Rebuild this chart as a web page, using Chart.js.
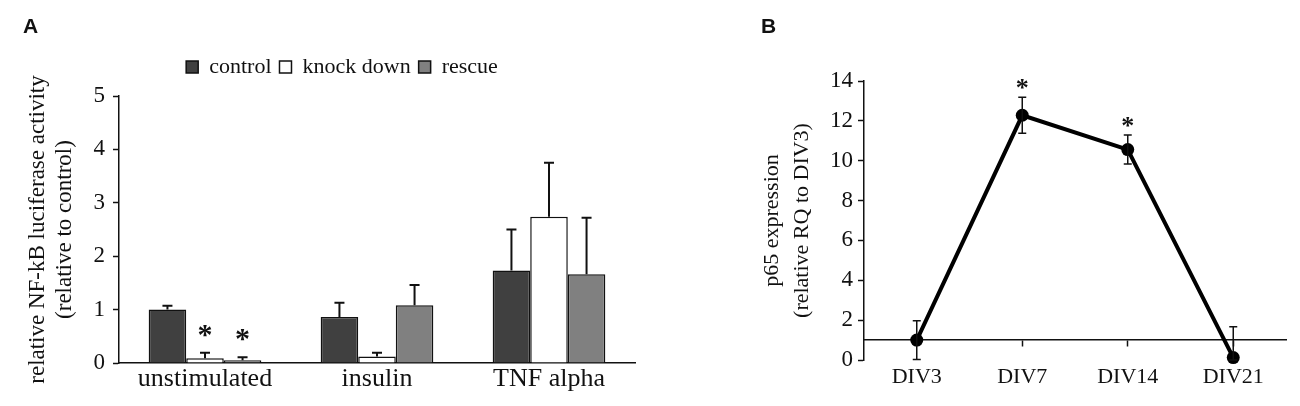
<!DOCTYPE html>
<html>
<head>
<meta charset="utf-8">
<script src="https://cdn.jsdelivr.net/npm/chart.js@4.4.1/dist/chart.umd.min.js"></script>
<style>
  html, body { margin: 0; padding: 0; background: #fff; }
  body { width: 1300px; height: 406px; position: relative; overflow: hidden; }
  .panel { position: absolute; top: 0; height: 406px; }
  #wrapA { left: 0; width: 684px; }
  #wrapB { left: 650px; width: 650px; }
  .tag { position: absolute; font: bold 21px "Liberation Sans", Arial, sans-serif; line-height: 21px; color: #111; }
</style>
</head>
<body>
<div class="panel" id="wrapA"><canvas id="chartA" width="684" height="406"></canvas></div>
<div class="panel" id="wrapB"><canvas id="chartB" width="650" height="406"></canvas></div>
<div class="tag" style="left:23px; top:15px;">A</div>
<div class="tag" style="left:761px; top:15px;">B</div>
<script>
// Panel A: NF-kB luciferase activity
const stimuli = ["unstimulated", "insulin", "TNF alpha"];
const controlVals = [1.00, 0.86, 1.73];
const controlErr = [0.07, 0.27, 0.77];
const knockDownVals = [0.09, 0.12, 2.74];
const knockDownErr = [0.10, 0.07, 1.01];
const rescueVals = [0.05, 1.08, 1.66];
const rescueErr = [0.06, 0.38, 1.06];
const knockDownSig = [true, false, false];
const rescueSig = [true, false, false];

// Panel B: p65 expression over days in vitro
const days = ["DIV3", "DIV7", "DIV14", "DIV21"];
const p65Vals = [1.00, 12.28, 10.56, 0.12];
const p65Err = [0.97, 0.90, 0.73, 1.55];
const p65Sig = [false, true, true, false];

const serif = '"Liberation Serif", "Times New Roman", serif';
Chart.defaults.font.family = serif;
Chart.defaults.color = "#111";
Chart.defaults.animation = false;

// error bars + asterisks, drawn from the dataset values through the y scale
const errorBars = {
    id: "errorBars",
    afterDatasetsDraw(chart, args, opts) {
        const ctx = chart.ctx;
        const y = chart.scales.y;
        chart.data.datasets.forEach((ds, di) => {
            if (!ds.errors) return;
            chart.getDatasetMeta(di).data.forEach((el, i) => {
                const v = ds.data[i], e = ds.errors[i];
                const top = y.getPixelForValue(v + e);
                const bot = opts.both ? y.getPixelForValue(Math.max(v - e, y.min)) : el.y;
                ctx.save();
                ctx.strokeStyle = "#111";
                ctx.lineWidth = opts.width;
                ctx.beginPath();
                ctx.moveTo(el.x, bot);
                ctx.lineTo(el.x, top);
                ctx.moveTo(el.x - opts.cap, top);
                ctx.lineTo(el.x + opts.cap, top);
                if (opts.both) {
                    ctx.moveTo(el.x - opts.cap, bot);
                    ctx.lineTo(el.x + opts.cap, bot);
                }
                ctx.stroke();
                if (ds.sig && ds.sig[i]) {
                    ctx.font = opts.starFont;
                    ctx.fillStyle = "#111";
                    ctx.textAlign = "center";
                    ctx.textBaseline = "alphabetic";
                    const m = ctx.measureText("*");
                    const cy = top - opts.starGap;
                    ctx.fillText("*", el.x, cy + (m.actualBoundingBoxAscent - m.actualBoundingBoxDescent) / 2);
                }
                ctx.restore();
            });
        });
    }
};

const axisLine = { color: "#111", width: 1.5 };

new Chart(document.getElementById("chartA"), {
    type: "bar",
    data: {
        labels: stimuli,
        datasets: [
            { label: "control", data: controlVals, errors: controlErr,
              backgroundColor: "#404040", borderColor: "#111", borderWidth: 1.5 },
            { label: "knock down", data: knockDownVals, errors: knockDownErr, sig: knockDownSig,
              backgroundColor: "#ffffff", borderColor: "#111", borderWidth: 1.5 },
            { label: "rescue", data: rescueVals, errors: rescueErr, sig: rescueSig,
              backgroundColor: "#808080", borderColor: "#111", borderWidth: 1.5 }
        ]
    },
    options: {
        responsive: false,
        layout: { padding: { top: 48, left: 0, right: 0, bottom: 0 } },
        datasets: { bar: { categoryPercentage: 0.655, barPercentage: 1 } },
        plugins: {
            legend: {
                position: "top",
                labels: { boxWidth: 12, boxHeight: 12, padding: 8, font: { size: 22 }, color: "#111" }
            },
            tooltip: { enabled: false },
            errorBars: { width: 2, cap: 5, both: false, starGap: 22, starFont: "bold 30px " + serif }
        },
        scales: {
            x: {
                grid: { display: true, drawOnChartArea: false, drawTicks: false },
                border: axisLine,
                ticks: { font: { size: 26 }, padding: 1, color: "#111" },
                afterFit: s => { s.height = 43; }
            },
            y: {
                min: 0, max: 5,
                ticks: { stepSize: 1, font: { size: 23 }, padding: 8, color: "#111" },
                grid: { drawOnChartArea: false, tickLength: 6, tickColor: "#111", tickWidth: 1.5 },
                border: axisLine,
                title: {
                    display: true,
                    text: ["relative NF-kB luciferase activity", "(relative to control)"],
                    font: { size: 23, lineHeight: 1.174 },
                    padding: { top: 24, bottom: 0 },
                    color: "#111"
                },
                afterFit: s => { s.width = 119; }
            },
            // empty spacer axes so the legend sits where the original has it
            gapTop: {
                type: "linear", position: "top", display: true,
                ticks: { display: false }, grid: { display: false }, border: { display: false },
                afterFit: s => { s.height = 8; }
            },
            gapRight: {
                type: "linear", position: "right", display: true,
                ticks: { display: false }, grid: { display: false }, border: { display: false },
                afterFit: s => { s.width = 49; }
            }
        }
    },
    plugins: [errorBars]
});

new Chart(document.getElementById("chartB"), {
    type: "line",
    data: {
        labels: days,
        datasets: [{
            label: "p65",
            data: p65Vals, errors: p65Err, sig: p65Sig,
            borderColor: "#000", borderWidth: 4, tension: 0, fill: false, clip: false,
            pointRadius: 6.5, pointBackgroundColor: "#000", pointBorderColor: "#000", pointBorderWidth: 0
        }]
    },
    options: {
        responsive: false,
        layout: { padding: { top: 81, bottom: 46, left: 0, right: 14 } },
        plugins: {
            legend: { display: false },
            tooltip: { enabled: false },
            errorBars: { width: 1.5, cap: 4, both: true, starGap: 13, starFont: "bold 26px " + serif }
        },
        scales: {
            x: {
                offset: true,
                position: { y: 1 },
                grid: { offset: false, drawOnChartArea: false, tickLength: 6, tickColor: "#111", tickWidth: 1.5 },
                border: axisLine,
                ticks: { font: { size: 22 }, padding: 18, color: "#111" }
            },
            y: {
                min: 0, max: 14,
                ticks: { stepSize: 2, font: { size: 23 }, padding: 5, color: "#111" },
                grid: { drawOnChartArea: false, tickLength: 6, tickColor: "#111", tickWidth: 1.5 },
                border: axisLine,
                title: {
                    display: true,
                    text: ["p65 expression", "(relative RQ to DIV3)"],
                    font: { size: 22, lineHeight: 1.364 },
                    padding: { top: 107, bottom: 0 },
                    color: "#111"
                },
                afterFit: s => { s.width = 214; }
            }
        }
    },
    plugins: [errorBars]
});
</script>
</body>
</html>
